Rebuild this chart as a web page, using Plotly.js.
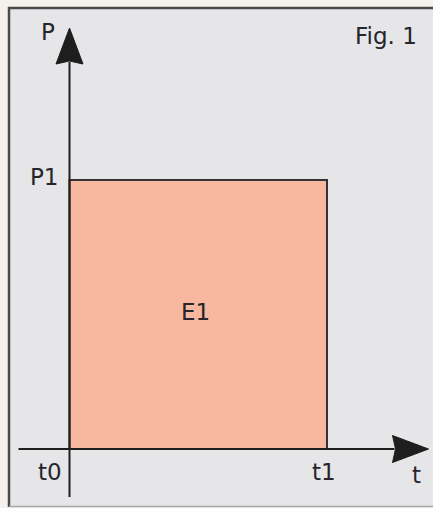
<!DOCTYPE html>
<html>
<head>
<meta charset="utf-8">
<script src="https://cdn.plot.ly/plotly-3.0.1.min.js"></script>
<style>html,body{margin:0;padding:0;background:#f5f2ed;}#chart{width:433px;height:508px;}</style>
</head>
<body>
<div id="chart"></div>
<script>
// ---- data ----
var timeLabels = ['t0', 't1'];
var timeValues = [0, 1];
var powerLabels = ['P1'];
var powerValues = [1];
var energyLabel = 'E1';
var axisNames = ['t', 'P'];
var figLabel = 'Fig. 1';

// ---- layout constants (pixel geometry of the figure) ----
var W = 433, H = 508;
var ox = 69.5, oy = 449;          // pixel position of origin
var sx = 257.5, sy = 269;         // pixels per data unit
function dx(p) { return p / sx; }  // pixel length -> x data units
function dy(p) { return p / sy; }  // pixel length -> y data units

var xr = [-ox / sx, (W - ox) / sx];
var yr = [-(H - oy) / sy, oy / sy];

var t0 = timeValues[0], t1 = timeValues[1], P1 = powerValues[0];

var rect = {
  x: [t0, t1, t1, t0, t0],
  y: [0, 0, P1, P1, 0],
  type: 'scatter', mode: 'lines', fill: 'toself',
  fillcolor: '#f8b79f',
  line: { color: '#333333', width: 2 },
  hoverinfo: 'skip', showlegend: false
};

var font = { family: 'DejaVu Sans', size: 23, color: '#25252b' };
var ink = '#1e1e1e';

// axis extents (pixels beyond origin)
var xLeft = t0 - dx(51), xTip = t0 + dx(359), arrowLen = 36, arrowHalf = 13.5;
var yBottom = 0 - dy(48), yTip = 0 + dy(421);

function tri(pts) {
  return 'M' + pts.map(function (p) { return p[0] + ',' + p[1]; }).join(' L') + ' Z';
}

var shapes = [
  // panel
  { type: 'rect', xref: 'paper', yref: 'paper', x0: 9 / W, x1: 1.01, y0: 1 - 506 / H, y1: 1 - 8 / H,
    fillcolor: '#e6e6e8', line: { width: 0 }, layer: 'below' },
  // panel borders
  { type: 'line', xref: 'paper', yref: 'paper', x0: 8 / W, x1: 1.01, y0: 1 - 8 / H, y1: 1 - 8 / H,
    line: { color: '#4a4a4a', width: 2.5 }, layer: 'below' },
  { type: 'line', xref: 'paper', yref: 'paper', x0: 9 / W, x1: 9 / W, y0: 1 - 507 / H, y1: 1 - 7 / H,
    line: { color: '#4a4a4a', width: 2.5 }, layer: 'below' },
  { type: 'line', xref: 'paper', yref: 'paper', x0: 9 / W, x1: 1.01, y0: 1 - 506.5 / H, y1: 1 - 506.5 / H,
    line: { color: '#a9a9a9', width: 1.5 }, layer: 'below' },
  // x axis line
  { type: 'line', xref: 'x', yref: 'y', x0: xLeft, x1: xTip - dx(arrowLen - 2), y0: 0, y1: 0,
    line: { color: ink, width: 2 }, layer: 'above' },
  // y axis line
  { type: 'line', xref: 'x', yref: 'y', x0: t0, x1: t0, y0: yBottom, y1: yTip - dy(arrowLen - 2),
    line: { color: ink, width: 2 }, layer: 'above' },
  // x arrow head
  { type: 'path', xref: 'x', yref: 'y', layer: 'above',
    path: tri([[xTip, 0], [xTip - dx(arrowLen), dy(arrowHalf)], [xTip - dx(arrowLen - 3), 0], [xTip - dx(arrowLen), -dy(arrowHalf)]]),
    fillcolor: ink, line: { color: ink, width: 1 } },
  // y arrow head
  { type: 'path', xref: 'x', yref: 'y', layer: 'above',
    path: tri([[t0, yTip], [t0 - dx(arrowHalf), yTip - dy(arrowLen)], [t0, yTip - dy(arrowLen - 3)], [t0 + dx(arrowHalf), yTip - dy(arrowLen)]]),
    fillcolor: ink, line: { color: ink, width: 1 } }
];

var annotations = [
  { x: t0, y: 0, text: timeLabels[0], xanchor: 'right', yanchor: 'middle', xshift: -6, yshift: -23 },
  { x: t1, y: 0, text: timeLabels[1], xanchor: 'center', yanchor: 'middle', xshift: -3, yshift: -23 },
  { x: xTip, y: 0, text: axisNames[0], xanchor: 'center', yanchor: 'middle', xshift: -12, yshift: -26 },
  { x: t0, y: P1, text: powerLabels[0], xanchor: 'right', yanchor: 'middle', xshift: -9, yshift: 3 },
  { x: t0, y: yTip, text: axisNames[1], xanchor: 'center', yanchor: 'middle', xshift: -22, yshift: -4 },
  { x: (t0 + t1) / 2, y: P1 / 2, text: energyLabel, xanchor: 'center', yanchor: 'middle', xshift: -3, yshift: 3 },
  { xref: 'paper', yref: 'paper', x: 419 / W, y: 1 - 36 / H, text: figLabel, xanchor: 'right', yanchor: 'middle' }
].map(function (a) {
  a.showarrow = false; a.font = font;
  if (!a.xref) { a.xref = 'x'; a.yref = 'y'; }
  return a;
});

var layout = {
  width: W, height: H,
  margin: { l: 0, r: 0, t: 0, b: 0, pad: 0 },
  paper_bgcolor: '#f5f2ed', plot_bgcolor: 'rgba(0,0,0,0)',
  xaxis: { range: xr, visible: false, fixedrange: true },
  yaxis: { range: yr, visible: false, fixedrange: true },
  shapes: shapes, annotations: annotations, showlegend: false
};

Plotly.newPlot('chart', [rect], layout, { displayModeBar: false, staticPlot: true });
</script>
</body>
</html>
